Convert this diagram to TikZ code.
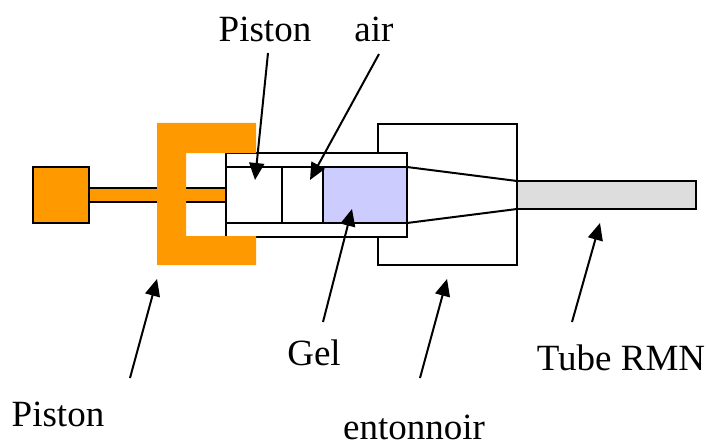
\documentclass[tikz,border=0pt]{standalone}
\usepackage{fontspec}
\setmainfont{Liberation Serif}
\usepackage{tikz}
\usetikzlibrary{positioning,arrows.meta}
\definecolor{pistonorange}{HTML}{FF9900}
\definecolor{gelblue}{HTML}{CCCCFF}
\definecolor{tubegrey}{HTML}{DDDDDD}

\begin{document}
\begin{tikzpicture}[
    x=1pt, y=-1pt,
    font=\fontsize{37}{40}\selectfont,
    >={Triangle[length=17pt,width=15pt]},
    box/.style={draw, line width=2pt, inner sep=0pt, outer sep=0pt, anchor=north west},
    handle/.style={box, fill=pistonorange, minimum width=56pt, minimum height=56pt},
    rod/.style={box, fill=pistonorange, minimum width=137pt, minimum height=14pt},
    funnel/.style={box, fill=white, minimum width=139pt, minimum height=141pt},
    barrel/.style={box, fill=white, minimum width=181pt, minimum height=84pt},
    bore/.style={box, minimum width=97pt, minimum height=56pt},
    gelbox/.style={box, fill=gelblue, minimum width=84pt, minimum height=56pt},
    tube/.style={box, fill=tubegrey, minimum width=179pt, minimum height=28pt},
    caption/.style={inner sep=0pt, anchor=base},
    arrow/.style={->, line width=2pt}
]
\useasboundingbox (0,0) rectangle (709,441);

% Funnel and barrel
\node[funnel] (entonnoirbox) at (378,124) {};
\node[barrel] (barrel) at (226,153) {};
\node[tube] (tubermn) at (517,181) {};
\node[gelbox] (gel) at (323,167) {};
\node[bore] (bore) at (226,167) {};
\coordinate (wall1) at (282,167);
\coordinate (wall2) at (282,223);
\draw[line width=2pt] (wall1) -- (wall2);
\draw[line width=2pt] (gel.north east) -- (tubermn.north west);
\draw[line width=2pt] (gel.south east) -- (tubermn.south west);

% Piston
\node[handle] (handle) at (33,167) {};
\node[rod] (rod) at (89,188) {};
\fill[pistonorange] (157,123) -- (256,123) -- (256,153) -- (186,153) -- (186,236)
    -- (256,236) -- (256,265) -- (157,265) -- cycle;

% Labels
\node[caption] (lpistontop) at (265,42) {Piston};
\node[caption] (lair) at (374,42) {air};
\node[caption] (lgel) at (314,365) {Gel};
\node[caption] (ltube) at (621,370) {Tube RMN};
\node[caption] (lpiston) at (58,426) {Piston};
\node[caption] (lentonnoir) at (414,439) {entonnoir};

% Arrows
\coordinate (a1) at (268,53);
\coordinate (b1) at (255,180);
\coordinate (a2) at (379,54);
\coordinate (b2) at (310,180);
\coordinate (a3) at (323,322);
\coordinate (b3) at (352,209);
\coordinate (a4) at (130,378);
\coordinate (b4) at (157,279);
\coordinate (a5) at (420,378);
\coordinate (b5) at (447,279);
\coordinate (a6) at (572,322);
\coordinate (b6) at (600,223);
\foreach \i in {1,...,6}
    \draw[arrow] (a\i) -- (b\i);
\end{tikzpicture}
\end{document}
